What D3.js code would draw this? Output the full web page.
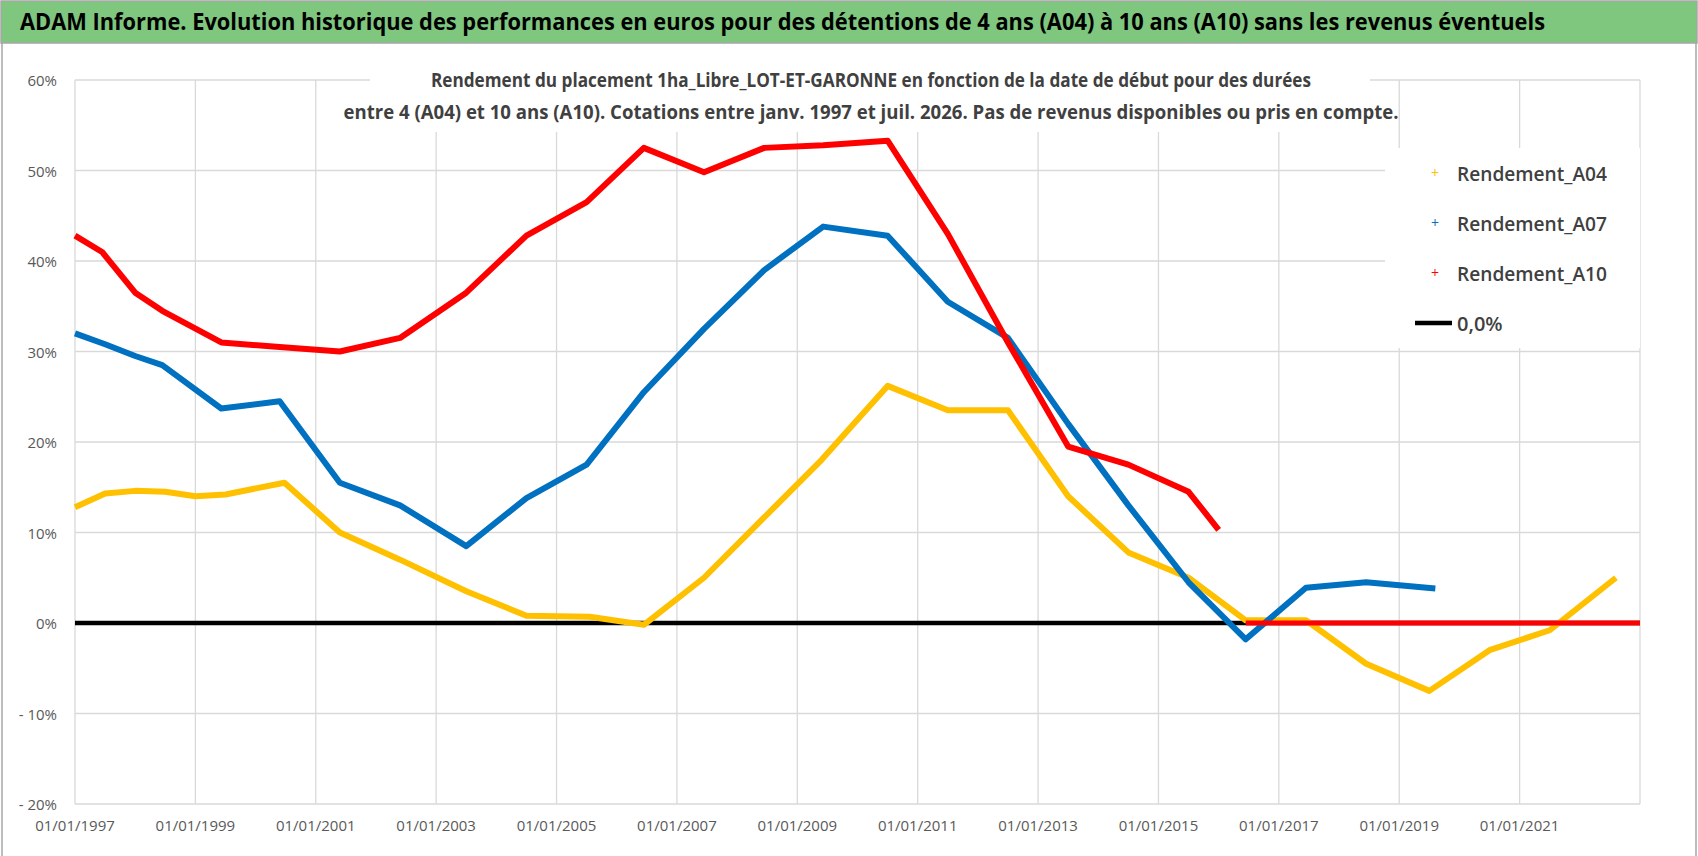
<!DOCTYPE html>
<html>
<head>
<meta charset="utf-8">
<script src="https://cdn.jsdelivr.net/npm/d3@7"></script>
<style>
body { margin: 0; background: #fff; }
text { font-family: "Open Sans", "DejaVu Sans", sans-serif; }
</style>
</head>
<body>
<div id="chart"></div>
<script>
// data (x = decimal year, y = %)
var a04Years = [1997.0, 1997.5, 1998.0, 1998.5, 1999.0, 1999.5, 2000.48, 2001.4, 2002.4, 2003.5, 2004.5, 2005.55, 2006.45, 2007.45, 2008.35, 2009.4, 2010.5, 2011.5, 2012.5, 2013.5, 2014.5, 2015.5, 2016.45, 2017.45, 2018.45, 2019.5, 2020.5, 2021.5, 2022.6];
var a04Values = [12.8, 14.3, 14.6, 14.5, 14.0, 14.2, 15.5, 10.0, 7.0, 3.5, 0.8, 0.7, -0.2, 5.0, 11.0, 18.0, 26.2, 23.5, 23.5, 14.0, 7.8, 5.0, 0.3, 0.3, -4.5, -7.5, -3.0, -0.8, 5.0];

var a07Years = [1997.0, 1997.5, 1998.0, 1998.45, 1999.43, 2000.4, 2001.4, 2002.4, 2003.5, 2004.5, 2005.5, 2006.45, 2007.45, 2008.45, 2009.43, 2010.5, 2011.5, 2012.5, 2013.5, 2014.5, 2015.5, 2016.45, 2017.45, 2018.45, 2019.6];
var a07Values = [32.0, 30.8, 29.5, 28.5, 23.7, 24.5, 15.5, 13.0, 8.5, 13.8, 17.5, 25.5, 32.5, 39.0, 43.8, 42.8, 35.5, 31.5, 22.0, 13.0, 4.5, -1.8, 3.9, 4.5, 3.8];

var a10Years = [1997.0, 1997.45, 1998.0, 1998.45, 1999.43, 2000.4, 2001.4, 2002.4, 2003.5, 2004.5, 2005.5, 2006.45, 2007.45, 2008.45, 2009.43, 2010.5, 2011.5, 2012.5, 2013.5, 2014.5, 2015.5, 2016.0];
var a10Values = [42.8, 41.0, 36.5, 34.5, 31.0, 30.5, 30.0, 31.5, 36.5, 42.8, 46.5, 52.5, 49.8, 52.5, 52.8, 53.3, 43.0, 31.0, 19.5, 17.5, 14.5, 10.3];

// A10 flat at 0 once no data is available
var a10ZeroYears = [2016.45, 2023.0];
var a10ZeroValues = [0, 0];

var yTicks = [60, 50, 40, 30, 20, 10, 0, -10, -20];
var xTickYears = [1997, 1999, 2001, 2003, 2005, 2007, 2009, 2011, 2013, 2015, 2017, 2019, 2021];
var xGridYears = [1997, 1999, 2001, 2003, 2005, 2007, 2009, 2011, 2013, 2015, 2017, 2019, 2021, 2023];

var seriesNames = ["Rendement_A04", "Rendement_A07", "Rendement_A10"];
var seriesColors = ["#FFC000", "#0070C0", "#FF0000"];

var svgWidth = 1698;
var svgHeight = 856;
var margin = { top: 80, right: 58, bottom: 52, left: 75 };
var width = svgWidth - margin.left - margin.right;
var height = svgHeight - margin.top - margin.bottom;

var svg = d3.select("#chart").append("svg")
    .attr("width", svgWidth)
    .attr("height", svgHeight);

var x = d3.scaleLinear().domain([1997, 2023]).range([0, width]);
var y = d3.scaleLinear().domain([-20, 60]).range([height, 0]);

var g = svg.append("g")
    .attr("transform", `translate(${margin.left}, ${margin.top})`);

// gridlines
g.selectAll(".hgrid").data(yTicks).enter().append("line")
    .attr("x1", 0).attr("x2", width)
    .attr("y1", d => y(d)).attr("y2", d => y(d))
    .attr("stroke", "#d9d9d9").attr("stroke-width", 1.3);
g.selectAll(".vgrid").data(xGridYears).enter().append("line")
    .attr("x1", d => x(d)).attr("x2", d => x(d))
    .attr("y1", 0).attr("y2", height)
    .attr("stroke", "#d9d9d9").attr("stroke-width", 1.3);

// y axis labels
g.selectAll(".ylab").data(yTicks).enter().append("text")
    .attr("x", -18).attr("y", d => y(d) + 6)
    .attr("text-anchor", "end")
    .attr("font-size", 15).attr("fill", "#595959")
    .text(d => (d < 0 ? "- " + Math.abs(d) : d) + "%");

// x axis labels
g.selectAll(".xlab").data(xTickYears).enter().append("text")
    .attr("x", d => x(d)).attr("y", height + 27)
    .attr("text-anchor", "middle")
    .attr("font-size", 15).attr("fill", "#595959")
    .text(d => "01/01/" + d);

// white backgrounds behind subtitle and legend (they hide the grid)
svg.append("rect").attr("x", 370).attr("y", 62).attr("width", 1000).attr("height", 70).attr("fill", "#fff");
svg.append("rect").attr("x", 1385).attr("y", 148).attr("width", 255).attr("height", 200).attr("fill", "#fff");

var line = d3.line().x(d => x(d[0])).y(d => y(d[1]));
function pairs(xs, ys) { return xs.map((v, i) => [v, ys[i]]); }

// zero line
g.append("line")
    .attr("x1", x(1997)).attr("x2", x(2023))
    .attr("y1", y(0)).attr("y2", y(0))
    .attr("stroke", "#000").attr("stroke-width", 4.5);

var seriesData = [pairs(a04Years, a04Values), pairs(a07Years, a07Values), pairs(a10Years, a10Values)];
seriesData.forEach((s, i) => {
    g.append("path").datum(s)
        .attr("d", line)
        .attr("fill", "none")
        .attr("stroke", seriesColors[i])
        .attr("stroke-width", 6)
        .attr("stroke-linejoin", "round");
});
g.append("path").datum(pairs(a10ZeroYears, a10ZeroValues))
    .attr("d", line)
    .attr("fill", "none").attr("stroke", "#FF0000").attr("stroke-width", 5);

// title bar
svg.append("rect").attr("x", 1).attr("y", 1).attr("width", svgWidth - 2).attr("height", 42)
    .attr("fill", "#7fc77f").attr("stroke", "#a6a6a6").attr("stroke-width", 1.5);
svg.append("text").attr("x", 20).attr("y", 30)
    .attr("font-size", 24).attr("font-weight", "bold").attr("fill", "#000")
    .attr("textLength", 1525).attr("lengthAdjust", "spacingAndGlyphs")
    .text("ADAM Informe. Evolution historique des performances en euros pour des détentions de 4 ans (A04) à 10 ans (A10) sans les revenus éventuels");

// frame
svg.append("line").attr("x1", 2).attr("x2", 2).attr("y1", 43).attr("y2", svgHeight)
    .attr("stroke", "#a6a6a6").attr("stroke-width", 1.5);
svg.append("line").attr("x1", svgWidth - 2).attr("x2", svgWidth - 2).attr("y1", 43).attr("y2", svgHeight)
    .attr("stroke", "#a6a6a6").attr("stroke-width", 1.5);

// subtitle
var sub = ["Rendement du placement 1ha_Libre_LOT-ET-GARONNE en fonction de la date de début pour des durées",
    "entre 4 (A04) et 10 ans (A10).  Cotations entre janv. 1997 et juil. 2026. Pas de revenus disponibles ou pris en compte."];
var subLen = [880, 1055];
sub.forEach((t, i) => {
    svg.append("text").attr("x", 871).attr("y", 87 + i * 32)
        .attr("text-anchor", "middle")
        .attr("font-size", 19).attr("font-weight", "bold").attr("fill", "#404040")
        .attr("textLength", subLen[i]).attr("lengthAdjust", "spacingAndGlyphs")
        .text(t);
});

// legend
var legend = svg.append("g").attr("transform", "translate(1435, 173)");
seriesNames.forEach((n, i) => {
    legend.append("text").attr("x", 0).attr("y", i * 50 + 5)
        .attr("text-anchor", "middle").attr("font-size", 14)
        .attr("fill", seriesColors[i]).text("+");
    legend.append("text").attr("x", 22).attr("y", i * 50 + 8)
        .attr("font-size", 20).attr("font-weight", 600).attr("fill", "#404040")
        .attr("textLength", 150).attr("lengthAdjust", "spacingAndGlyphs")
        .text(n);
});
legend.append("line").attr("x1", -20).attr("x2", 17).attr("y1", 150).attr("y2", 150)
    .attr("stroke", "#000").attr("stroke-width", 4.5);
legend.append("text").attr("x", 22).attr("y", 158)
    .attr("font-size", 20).attr("font-weight", 600).attr("fill", "#404040")
    .text("0,0%");
</script>
</body>
</html>
